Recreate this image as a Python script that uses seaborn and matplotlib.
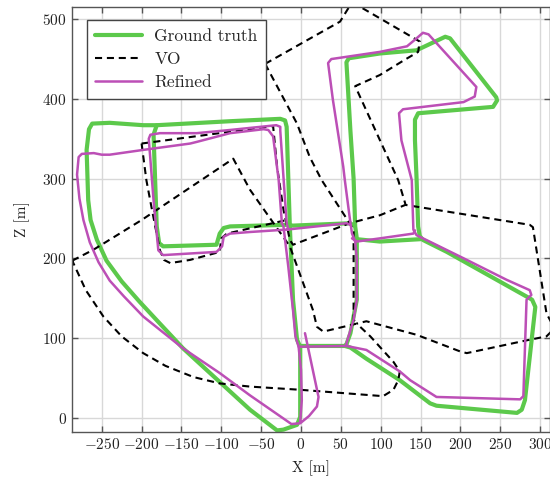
import matplotlib
matplotlib.use("Agg")
import matplotlib.pyplot as plt
import pandas as pd
import seaborn as sns

# Trajectory pieces, (x, z) in metres.
# Ground truth
gt_outer = [(-1, 89), (-1, 1), (-5, -9), (-22, -15), (-30, -16), (-64, 10), (-148, 87),
            (-177, 118), (-203, 146), (-225, 171), (-244, 197), (-256, 223), (-264, 248),
            (-267, 273), (-269, 336), (-266, 362), (-262, 369), (-240, 370), (-198, 367),
            (-181, 367), (-89, 372), (-26, 375), (-20, 373), (-18, 365), (-14, 240),
            (-10, 148), (-5, 98), (-1, 89)]
gt_lower = [(-1, 90), (55, 90), (62, 88), (82, 74), (124, 47), (162, 18), (170, 15),
            (271, 6), (277, 10), (281, 22), (294, 139), (290, 148), (283, 152), (208, 194),
            (183, 208), (153, 223), (149, 228), (147, 240), (145, 300), (143, 348),
            (143, 374), (147, 382), (241, 390), (246, 398), (245, 402), (187, 476),
            (181, 478), (145, 461), (99, 457), (60, 451), (57, 446), (62, 360), (66, 300),
            (68, 240), (70, 225), (70, 200), (70, 148), (62, 106), (57, 92), (55, 90)]
gt_middle = [(-181, 367), (-185, 355), (-181, 240), (-178, 219), (-173, 215), (-106, 217),
             (-102, 231), (-97, 238), (-89, 240), (-18, 242), (-10, 241), (62, 244), (66, 241)]
gt_right = [(70, 224), (99, 221), (150, 224)]

# VO
vo_loop = [(-287, 197), (-260, 211), (-200, 248), (-85, 325), (-64, 286), (-14, 215),
           (15, 135), (20, 114), (28, 108), (70, 118), (87, 102), (116, 70), (124, 58),
           (122, 47), (116, 35), (103, 27), (-1, 35), (-64, 39), (-102, 43), (-135, 51),
           (-170, 65), (-198, 81), (-225, 102), (-248, 127), (-270, 160), (-287, 197)]
vo_block = [(-200, 344), (-35, 366), (-30, 315), (-22, 261), (-14, 223), (-10, 217),
            (61, 244), (99, 254), (131, 267), (287, 242), (291, 239), (308, 131),
            (318, 112), (308, 102), (283, 97), (208, 81), (200, 83), (145, 104),
            (82, 121), (70, 118)]
vo_block_low = [(-200, 344), (-194, 298), (-187, 261), (-177, 210), (-172, 198), (-164, 194),
                (-139, 198), (-102, 208), (-100, 225), (-93, 231), (-18, 248)]
vo_top = [(-45, 444), (49, 497), (62, 518), (70, 518), (149, 472), (147, 459), (130, 449),
          (99, 430), (68, 416), (122, 298), (131, 268)]
vo_diag = [(-45, 444), (-5, 369), (11, 327), (26, 298), (61, 244), (66, 235), (66, 180),
           (66, 123), (70, 118)]

# Refined
ref_outer = [(5, 106), (22, 26), (20, 14), (10, 2), (-1, -7), (-12, -8), (-64, 28),
             (-102, 56), (-148, 87), (-198, 127), (-222, 152), (-240, 172), (-254, 195),
             (-265, 220), (-273, 248), (-278, 275), (-281, 305), (-279, 327), (-275, 331),
             (-260, 332), (-250, 330), (-240, 330), (-198, 336), (-139, 344), (-131, 346),
             (-89, 357), (-47, 362), (-41, 361), (-35, 353), (-28, 298), (-24, 244),
             (-22, 240), (-16, 190), (-10, 135), (-7, 102), (-3, 89), (0, 60), (1, 22),
             (-1, -5)]
ref_lower = [(-3, 89), (57, 90), (82, 85), (124, 58), (137, 47), (170, 26), (275, 23),
             (279, 27), (283, 148), (289, 154), (287, 160), (258, 173), (204, 200),
             (145, 229), (141, 236), (139, 298), (126, 348), (123, 382), (128, 387),
             (204, 396), (218, 403), (220, 415), (160, 481), (153, 483), (145, 476),
             (133, 466), (99, 459), (38, 450), (34, 445), (40, 399), (53, 315), (55, 298),
             (61, 252), (64, 231), (68, 221), (70, 200), (70, 148), (66, 123), (57, 93),
             (57, 90)]
ref_middle = [(62, 242), (57, 244), (-18, 236), (-64, 233), (-89, 231), (-97, 227),
              (-99, 215), (-106, 208), (-173, 204), (-179, 210), (-185, 273), (-191, 350),
              (-189, 355), (-177, 357), (-131, 357), (-89, 361), (-31, 367), (-26, 365),
              (-26, 360), (-18, 244), (-16, 236)]
ref_right = [(64, 225), (70, 221), (99, 225), (141, 231), (143, 235)]

x_ticks = [-250, -200, -150, -100, -50, 0, 50, 100, 150, 200, 250, 300]
z_ticks = [0, 100, 200, 300, 400, 500]


def to_frame(pieces):
    rows = []
    for i, piece in enumerate(pieces):
        for x, z in piece:
            rows.append((i, x, z))
    return pd.DataFrame(rows, columns=["seg", "x", "z"])


sns.set_style("whitegrid")
plt.rcParams["font.family"] = "serif"
plt.rcParams["font.serif"] = ["cmr10", "DejaVu Serif"]
plt.rcParams["mathtext.fontset"] = "cm"
plt.rcParams["axes.formatter.use_mathtext"] = True
plt.rcParams["axes.unicode_minus"] = True
plt.rcParams["lines.dashed_pattern"] = [3.4, 2.3]

fig = plt.figure(figsize=(5.5, 4.79), dpi=100)
ax = fig.add_axes([71.7 / 550, 1 - 431.7 / 479, (549.5 - 71.7) / 550, (431.7 - 6.7) / 479])

sns.lineplot(data=to_frame([gt_outer, gt_lower, gt_middle, gt_right]), x="x", y="z",
             units="seg", estimator=None, sort=False, color="#5cc94b", lw=3.0,
             solid_capstyle="round", solid_joinstyle="round", label="Ground truth", ax=ax)
sns.lineplot(data=to_frame([vo_loop, vo_block, vo_block_low, vo_top, vo_diag]), x="x", y="z",
             units="seg", estimator=None, sort=False, color="black", lw=1.5,
             linestyle="--", label="VO", ax=ax)
sns.lineplot(data=to_frame([ref_outer, ref_lower, ref_middle, ref_right]), x="x", y="z",
             units="seg", estimator=None, sort=False, color="#bc4fb6", lw=1.8,
             solid_capstyle="round", solid_joinstyle="round", label="Refined", ax=ax)

ax.set_xlim(-287.7, 311.8)
ax.set_ylim(-17.6, 515.7)
ax.set_xticks(x_ticks)
ax.set_yticks(z_ticks)
ax.tick_params(axis="both", which="both", direction="in", length=4, width=1,
               color="#555555", labelsize=11, labelcolor="#222222",
               bottom=True, top=True, left=True, right=True)
ax.grid(True, color="#d8d8d8", lw=1)
for s in ax.spines.values():
    s.set_color("#555555")
    s.set_linewidth(1)

ax.set_xlabel("X [m]", fontsize=11, labelpad=6, color="#222222")
ax.set_ylabel("Z [m]", fontsize=11, labelpad=9, color="#222222")

handles, labels = ax.get_legend_handles_labels()
uniq = dict(zip(labels, handles))
leg = ax.legend(uniq.values(), uniq.keys(), loc="upper left",
                bbox_to_anchor=(15 / 477.8, 1 - 13.3 / 425), borderaxespad=0,
                fontsize=12.5, frameon=True, fancybox=False, framealpha=1,
                edgecolor="#444444", handlelength=2.7, handletextpad=0.7,
                labelspacing=0.45, borderpad=0.5)
leg.get_frame().set_linewidth(1)

fig.savefig("out.png", dpi=100)
